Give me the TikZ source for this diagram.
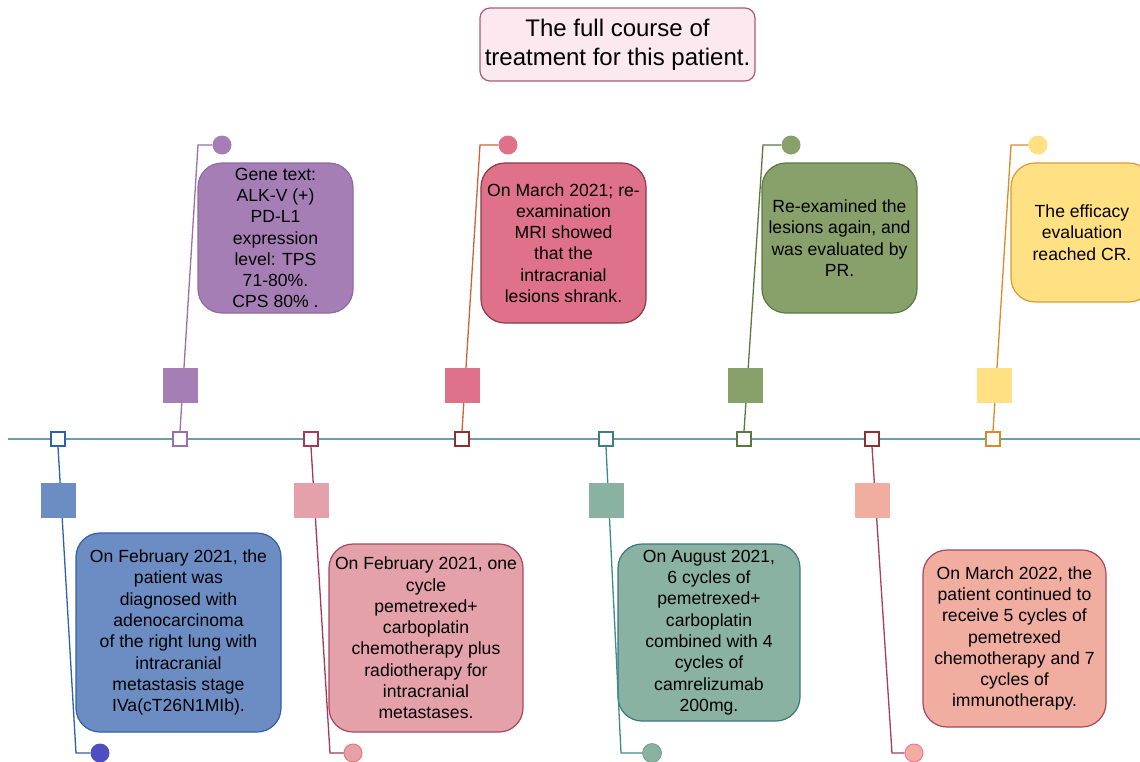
\documentclass[tikz,border=0pt]{standalone}
\usepackage{fontspec}
\setmainfont{Liberation Sans}
\begin{document}
\begin{tikzpicture}[x=1pt,y=-1pt,
  txt/.style={font=\fontsize{17.6}{21.3}\selectfont, align=center, text=black},
  evbox/.style={txt, rounded corners=24pt, line width=1.2pt, inner sep=0pt},
  tick/.style={draw=#1, fill=white, line width=1.6pt, minimum size=14pt, inner sep=0pt},
  bigsq/.style={fill=#1, minimum size=35pt, inner sep=0pt},
  dot/.style={circle, fill=#1, minimum size=19pt, inner sep=0pt},
  conn/.style={draw=#1, line width=1.3pt}
]
\useasboundingbox (0,0) rectangle (1140,761);
\clip (0,0) rectangle (1140,761);
% colours
\definecolor{mainl}{HTML}{6B9FA5}
\definecolor{bluL}{HTML}{3060A8}\definecolor{bluF}{HTML}{6B8DC3}\definecolor{bluD}{HTML}{4E4EC0}
\definecolor{purL}{HTML}{9B6FA8}\definecolor{purF}{HTML}{A67EB6}\definecolor{purS}{HTML}{8F6AA0}
\definecolor{pnkL}{HTML}{A8385A}\definecolor{pnkF}{HTML}{E4A1AA}\definecolor{pnkS}{HTML}{A44860}\definecolor{pnkC}{HTML}{F07868}
\definecolor{redT}{HTML}{8E2F2F}\definecolor{redL}{HTML}{C8643C}\definecolor{redF}{HTML}{E0718A}\definecolor{redS}{HTML}{8A3A45}
\definecolor{telL}{HTML}{3D8A8A}\definecolor{telT}{HTML}{3D7D86}\definecolor{telF}{HTML}{8AB2A3}\definecolor{telS}{HTML}{3E7580}
\definecolor{grnL}{HTML}{5A7841}\definecolor{grnF}{HTML}{88A06A}\definecolor{grnS}{HTML}{5B7943}
\definecolor{salL}{HTML}{A4405A}\definecolor{salF}{HTML}{F2ADA1}\definecolor{salC}{HTML}{FF70A0}
\definecolor{yelL}{HTML}{D98A2B}\definecolor{yelF}{HTML}{FFE082}\definecolor{yelS}{HTML}{D99A3A}
\definecolor{titF}{HTML}{FCE9EF}\definecolor{titS}{HTML}{B0577A}

% title
\node[draw=titS, fill=titF, rounded corners=10pt, line width=1.2pt, minimum width=275pt, minimum height=73pt, inner sep=0pt,
  font=\fontsize{24}{29}\selectfont, align=center] (title) at (617.5,44.5) {The full course of\\treatment for this patient.};

% event boxes
\node[evbox, draw=bluL, fill=bluF, minimum width=205pt, minimum height=199pt] (t1) at (178.5,632.5)
  {On February 2021, the\\patient was\\diagnosed with\\adenocarcinoma\\of the right lung with\\intracranial\\metastasis stage\\IVa(cT26N1MIb).};
\node[evbox, draw=purS, fill=purF, minimum width=155pt, minimum height=150pt] (t2) at (275.5,238)
  {Gene text:\\ALK-V (+)\\PD-L1\\expression\\level: TPS\\71-80\%.\\CPS 80\% .};
\node[evbox, draw=pnkS, fill=pnkF, minimum width=194pt, minimum height=188pt] (t3) at (426,638)
  {On February 2021, one\\cycle\\pemetrexed+\\carboplatin\\chemotherapy plus\\radiotherapy for\\intracranial\\metastases.};
\node[evbox, draw=redS, fill=redF, minimum width=165pt, minimum height=160pt] (t4) at (563.5,243)
  {On March 2021; re-\\examination\\MRI showed\\that the\\intracranial\\lesions shrank.};
\node[evbox, draw=telS, fill=telF, minimum width=182pt, minimum height=177pt] (t5) at (709,632.5)
  {On August 2021,\\6 cycles of\\pemetrexed+\\carboplatin\\combined with 4\\cycles of\\camrelizumab\\200mg.};
\node[evbox, draw=grnS, fill=grnF, minimum width=155pt, minimum height=150pt] (t6) at (839.5,238)
  {Re-examined the\\lesions again, and\\was evaluated by\\PR.};
\node[evbox, draw=pnkS, fill=salF, minimum width=183pt, minimum height=177pt] (t7) at (1014.5,638.5)
  {On March 2022, the\\patient continued to\\receive 5 cycles of\\pemetrexed\\chemotherapy and 7\\cycles of\\immunotherapy.};
\node[evbox, draw=yelS, fill=yelF, minimum width=142pt, minimum height=139pt] (t8) at (1082,232.5)
  {The efficacy\\evaluation\\reached CR.};

% timeline
\coordinate (ls) at (8,439);
\coordinate (le) at (1140,439);
\draw[mainl, line width=1.3pt] (ls) -- (le);

% ticks on the timeline
\node[tick=bluL] (s1) at (58,439) {};
\node[tick=purL] (s2) at (180,439) {};
\node[tick=pnkL] (s3) at (311,439) {};
\node[tick=redT] (s4) at (462,439) {};
\node[tick=telT] (s5) at (606,439) {};
\node[tick=grnL] (s6) at (744,439) {};
\node[tick=redT] (s7) at (872,439) {};
\node[tick=yelL] (s8) at (993,439) {};

% end dots
\node[dot=bluD] (c1) at (100,753) {};
\node[dot=purF] (c2) at (222,145) {};
\node[dot=pnkF, draw=pnkC, line width=1pt, minimum size=18pt] (c3) at (353,753) {};
\node[dot=redF] (c4) at (508,145) {};
\node[dot=telF, draw=telF!80!black, line width=0.6pt] (c5) at (652,753) {};
\node[dot=grnF] (c6) at (791,145) {};
\node[dot=salF, draw=salC, line width=1pt, minimum size=18pt] (c7) at (914,753) {};
\node[dot=yelF] (c8) at (1038,145) {};

% corners
\coordinate (k1) at (76,753);
\coordinate (k2) at (198,145);
\coordinate (k3) at (330,753);
\coordinate (k4) at (480,145);
\coordinate (k5) at (621,753);
\coordinate (k6) at (763,145);
\coordinate (k7) at (892,753);
\coordinate (k8) at (1011,145);

% connectors
\draw[conn=bluL] (s1.south) -- (k1) -- (c1.west);
\draw[conn=purL] (s2.north) -- (k2) -- (c2.west);
\draw[conn=pnkL] (s3.south) -- (k3) -- (c3.west);
\draw[conn=redL] (s4.north) -- (k4) -- (c4.west);
\draw[conn=telL] (s5.south) -- (k5) -- (c5.west);
\draw[conn=grnL] (s6.north) -- (k6) -- (c6.west);
\draw[conn=salL] (s7.south) -- (k7) -- (c7.west);
\draw[conn=yelL] (s8.north) -- (k8) -- (c8.west);

% big squares
\node[bigsq=bluF] (b1) at (58.5,500.5) {};
\node[bigsq=purF] (b2) at (180.5,385.5) {};
\node[bigsq=pnkF] (b3) at (311.5,500.5) {};
\node[bigsq=redF] (b4) at (462.5,385.5) {};
\node[bigsq=telF] (b5) at (606.5,500.5) {};
\node[bigsq=grnF] (b6) at (745,385.5) {};
\node[bigsq=salF] (b7) at (872,500.5) {};
\node[bigsq=yelF] (b8) at (994,385.5) {};
\end{tikzpicture}
\end{document}
